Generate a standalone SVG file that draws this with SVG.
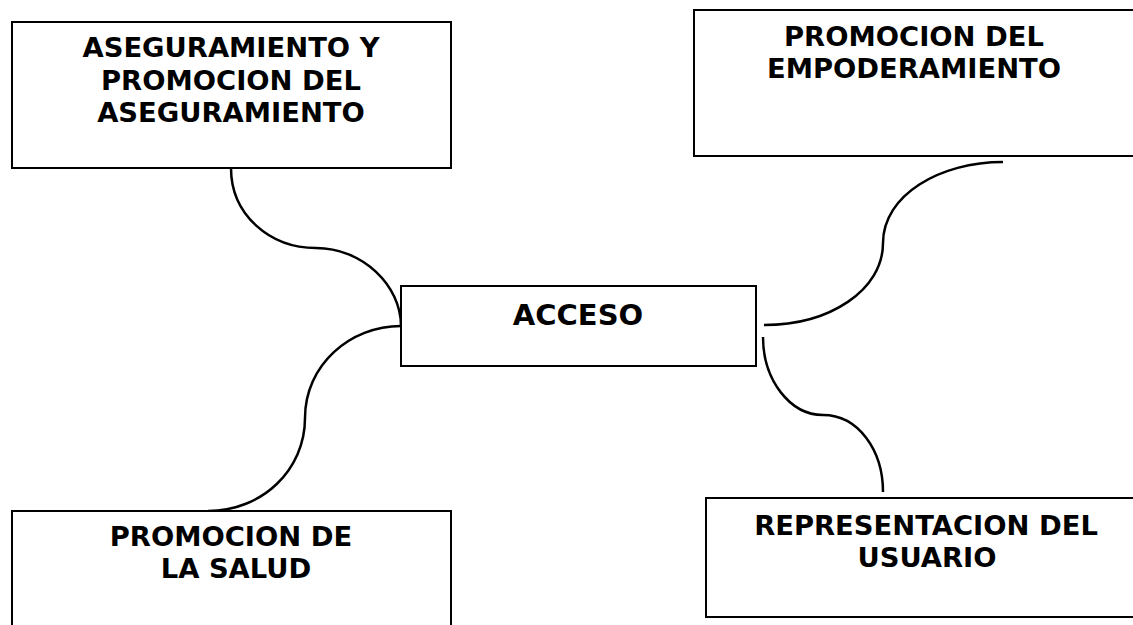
<svg xmlns="http://www.w3.org/2000/svg" width="1133" height="625" viewBox="0 0 1133 625">
<style>
.box{fill:#fff;stroke:#000;stroke-width:2}
.t{font-family:"DejaVu Sans",Verdana,sans-serif;font-weight:bold;font-size:27.4px;fill:#000;text-anchor:middle}
.big{font-size:29px}
.c{fill:none;stroke:#000;stroke-width:2.5}
</style>
<rect width="1133" height="625" fill="#fff"/>
<g id="connectors">
<path class="c" d="M231,168 C231,215 270,248 316,248 C362,248 401,285 401,326"/>
<path class="c" d="M401,326 C350,326 305,365 305,418 C305,470 262,511 208,511"/>
<path class="c" d="M764,325 C830,325 883,290 883,243 C883,195 940,162 1003,162"/>
<path class="c" d="M763,337 C763,380 790,415 823,415 C858,415 883,450 883,492"/>
</g>
<g id="n-aseguramiento">
<rect class="box" x="12" y="22" width="439" height="146"/>
<text class="t" x="231" y="57">ASEGURAMIENTO Y</text>
<text class="t" x="231" y="90">PROMOCION DEL</text>
<text class="t" x="231" y="122">ASEGURAMIENTO</text>
</g>
<g id="n-empoderamiento">
<rect class="box" x="694" y="10" width="445" height="146"/>
<text class="t" x="914" y="46">PROMOCION DEL</text>
<text class="t" x="914" y="78">EMPODERAMIENTO</text>
</g>
<g id="n-acceso">
<rect class="box" x="401" y="286" width="355" height="80"/>
<text class="t big" x="578" y="325">ACCESO</text>
</g>
<g id="n-salud">
<rect class="box" x="12" y="511" width="439" height="125"/>
<text class="t" x="231" y="546">PROMOCION DE</text>
<text class="t" x="236" y="578">LA SALUD</text>
</g>
<g id="n-usuario">
<rect class="box" x="706" y="498" width="433" height="119"/>
<text class="t" x="926" y="535">REPRESENTACION DEL</text>
<text class="t" x="927" y="567">USUARIO</text>
</g>
</svg>
